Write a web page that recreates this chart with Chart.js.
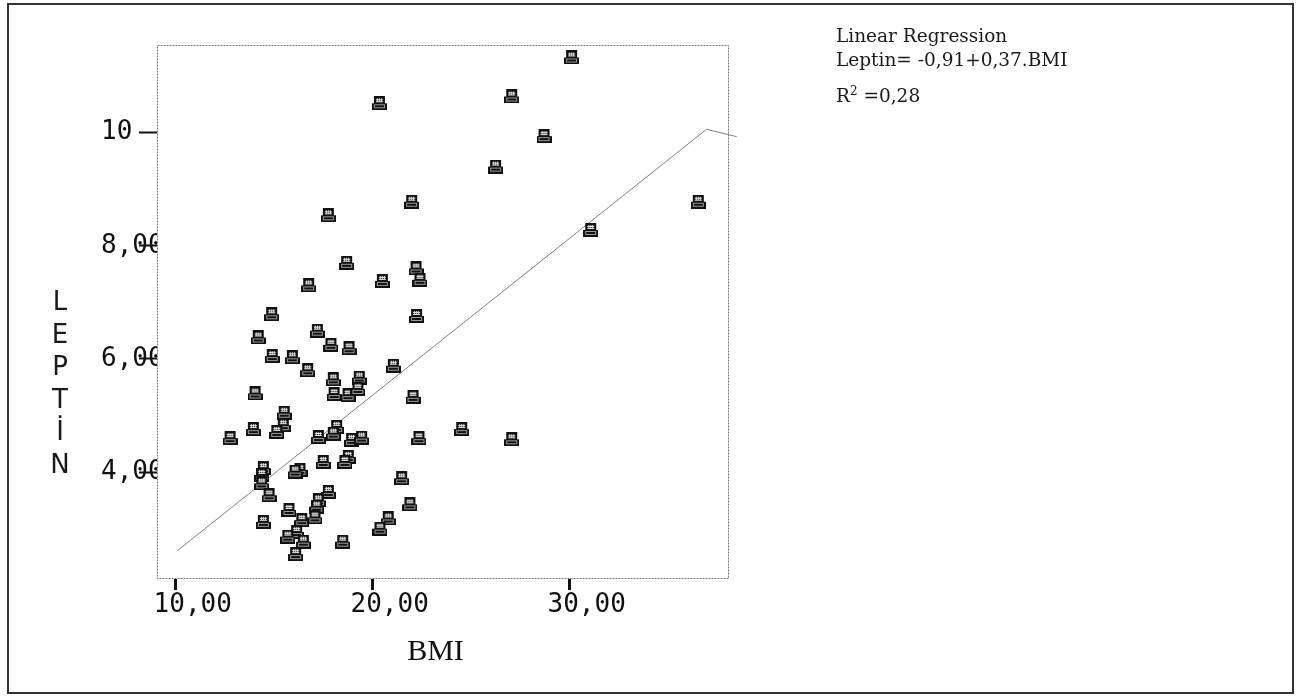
<!DOCTYPE html>
<html>
<head>
<meta charset="utf-8">
<script src="https://cdn.jsdelivr.net/npm/chart.js@4.4.1/dist/chart.umd.min.js"></script>
<style>
  html, body { margin: 0; padding: 0; background: #fff; }
  #wrap { position: relative; width: 1296px; height: 698px; overflow: hidden; }
  #leptinChart { position: absolute; left: 0; top: 0; display: block; }
  #frame { position: absolute; left: 7px; top: 3px; width: 1287px; height: 691px; border: 2px solid #333; box-sizing: border-box; }
  #yTitle { position: absolute; left: 45px; top: 285px; width: 30px; font: 26px "DejaVu Sans", sans-serif; line-height: 32.5px; text-align: center; color: #1a1a1a; }
  .note { position: absolute; left: 836px; font: 18.5px "DejaVu Serif", serif; line-height: 22px; color: #1a1a1a; white-space: nowrap; }
  .note sup { font-size: 12px; line-height: 0; }
</style>
</head>
<body>
<div id="wrap">
  <canvas id="leptinChart" width="1296" height="698"></canvas>
  <div id="frame"></div>
  <div id="yTitle">L<br>E<br>P<br>T<br>İ<br>N</div>
  <div class="note" style="top: 25px;">Linear Regression</div>
  <div class="note" style="top: 49px;">Leptin= -0,91+0,37.BMI</div>
  <div class="note" style="top: 85px;">R<sup>2</sup> =0,28</div>
</div>
<script>
// BMI / leptin pairs
const bmi = [
  30.10, 27.06, 20.34, 28.70, 26.24, 36.53, 21.98, 17.75, 31.07, 18.68,
  22.20, 22.40, 20.49, 16.75, 14.87, 22.23, 17.19, 14.19, 17.88, 18.80,
  14.90, 15.92, 16.70, 21.05, 18.00, 19.32, 14.03, 18.04, 18.75, 19.25,
  22.05, 15.51, 15.46, 15.13, 13.94, 12.76, 17.24, 18.17, 18.00, 18.93,
  19.44, 22.35, 24.52, 27.06, 17.49, 18.76, 18.59, 16.31, 16.06, 14.45,
  14.37, 14.37, 21.47, 14.74, 17.75, 17.24, 17.16, 15.75, 21.89, 20.79,
  20.37, 14.45, 16.40, 17.07, 16.14, 15.69, 16.48, 18.48, 16.09
];
const leptin = [
  11.33, 10.64, 10.52, 9.94, 9.40, 8.78, 8.78, 8.54, 8.28, 7.70,
  7.60, 7.40, 7.38, 7.30, 6.79, 6.76, 6.50, 6.38, 6.25, 6.19,
  6.05, 6.03, 5.80, 5.88, 5.64, 5.67, 5.39, 5.38, 5.36, 5.47,
  5.33, 5.05, 4.83, 4.71, 4.76, 4.60, 4.62, 4.80, 4.68, 4.57,
  4.61, 4.60, 4.76, 4.58, 4.18, 4.27, 4.18, 4.04, 4.01, 4.07,
  3.95, 3.80, 3.89, 3.59, 3.65, 3.50, 3.39, 3.33, 3.43, 3.18,
  3.00, 3.12, 3.15, 3.20, 2.94, 2.86, 2.77, 2.77, 2.55
];

// fitted line as drawn in the figure
const fitBmi = [10.08, 36.95, 38.48];
const fitLeptin = [2.61, 10.06, 9.93];

const xTicks = [10, 20, 30];
const yTicks = [4, 6, 8, 10];

// little SPSS style marker icon (dark base, hatched box on top)
function makeMarker() {
  const c = document.createElement("canvas");
  c.width = 15;
  c.height = 14;
  const g = c.getContext("2d");
  g.fillStyle = "#111";
  g.fillRect(2, 0, 11, 7);
  g.fillStyle = "#ddd";
  g.fillRect(4, 2, 7, 4);
  g.fillStyle = "#222";
  for (let y = 2; y < 6; y += 2) {
    for (let x = 4; x < 11; x += 2) g.fillRect(x, y, 1, 1);
  }
  g.fillStyle = "#111";
  g.fillRect(0, 7, 15, 7);
  g.strokeStyle = "#9a9a9a";
  g.lineWidth = 1;
  g.strokeRect(2.5, 8.5, 10, 3);
  return c;
}

const comma = (v) => v.toFixed(2).replace(".", ",");

const plotFrame = {
  id: "plotFrame",
  beforeDatasetsDraw(chart) {
    const { ctx, chartArea: a } = chart;
    ctx.save();
    ctx.strokeStyle = "#777";
    ctx.lineWidth = 1;
    ctx.setLineDash([2, 1]);
    ctx.strokeRect(a.left + 0.5, a.top + 0.5, a.right - a.left - 1, a.bottom - a.top - 1);
    ctx.restore();
  },
};

const tickFont = { family: "DejaVu Sans Mono", size: 26 };

new Chart(document.getElementById("leptinChart"), {
  type: "scatter",
  data: {
    datasets: [
      {
        label: "LEPTIN",
        data: bmi.map((b, i) => ({ x: b, y: leptin[i] })),
        pointStyle: makeMarker(),
        pointRadius: 7,
      },
      {
        label: "Linear Regression",
        data: fitBmi.map((b, i) => ({ x: b, y: fitLeptin[i] })),
        showLine: true,
        borderColor: "#808080",
        borderWidth: 1,
        pointRadius: 0,
        clip: false,
      },
    ],
  },
  options: {
    responsive: false,
    animation: false,
    devicePixelRatio: 1,
    layout: { padding: { left: 101, top: 45, right: 567, bottom: 20 } },
    plugins: {
      legend: { display: false },
      tooltip: { enabled: false },
    },
    scales: {
      x: {
        type: "linear",
        min: 9.05,
        max: 38.09,
        afterBuildTicks: (s) => {
          s.ticks = xTicks.map((v) => ({ value: v }));
        },
        afterFit: (s) => {
          s.height = 99;
        },
        border: { display: false },
        grid: { drawOnChartArea: false, tickLength: 11, tickWidth: 3, tickColor: "#111" },
        ticks: {
          font: tickFont,
          color: "#111",
          padding: 0,
          labelOffset: 17,
          maxRotation: 0,
          autoSkip: false,
          callback: (v) => comma(v),
        },
        title: {
          display: true,
          text: "BMI\u2002",
          color: "#111",
          font: { family: "Liberation Serif", size: 30 },
          padding: { top: 0, bottom: 8 },
        },
      },
      y: {
        min: 2.11,
        max: 11.55,
        afterBuildTicks: (s) => {
          s.ticks = yTicks.map((v) => ({ value: v }));
        },
        afterFit: (s) => {
          s.width = 56;
        },
        border: { display: false },
        grid: { drawOnChartArea: false, tickLength: 18, tickWidth: 2, tickColor: "#111" },
        ticks: {
          font: tickFont,
          color: "#111",
          padding: 0,
          crossAlign: "far",
          autoSkip: false,
          callback: (v) => (v === 10 ? "10" : comma(v)),
        },
      },
    },
  },
  plugins: [plotFrame],
});
</script>
</body>
</html>
